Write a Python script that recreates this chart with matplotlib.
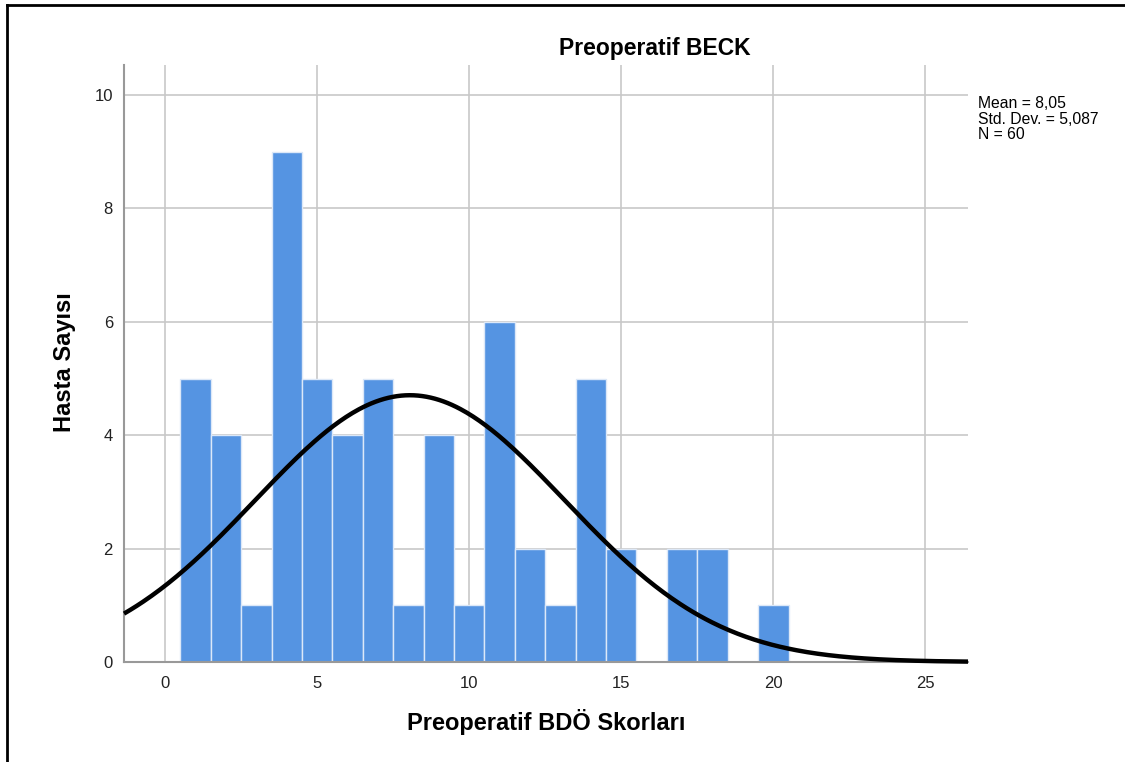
import matplotlib.pyplot as plt
import numpy as np

plt.rcParams['font.family'] = ['Liberation Sans', 'DejaVu Sans']

# Histogram bins (score value) and patient counts
scores = [1, 2, 3, 4, 5, 6, 7, 8, 9, 10, 11, 12, 13, 14, 15, 16, 17, 18, 19, 20]
counts = [5, 4, 1, 9, 5, 4, 5, 1, 4, 1, 6, 2, 1, 5, 2, 0, 2, 2, 0, 1]

mean = 8.05
std_dev = 5.087
n = 60

fig = plt.figure(figsize=(11.25, 7.62), dpi=100)
ax = fig.add_axes([124 / 1125, 1 - 662 / 762, (968 - 124) / 1125, (662 - 65) / 762])

ax.set_xlim(-1.35, 26.4)
ax.set_ylim(0, 10.53)

# grid behind bars
ax.set_axisbelow(True)
ax.grid(True, color='#c8c8c8', linewidth=1.2)

ax.bar(scores, counts, width=1.0, color='#5594e2', edgecolor='#dce8f8', linewidth=1.0, zorder=2)

# fitted normal curve scaled to counts (bin width 1)
xs = np.linspace(-1.35, 26.4, 400)
ys = n * 1.0 / (std_dev * np.sqrt(2 * np.pi)) * np.exp(-0.5 * ((xs - mean) / std_dev) ** 2)
ax.plot(xs, ys, color='black', linewidth=3.2, zorder=3, clip_on=False, solid_capstyle='butt')

ax.set_xticks([0, 5, 10, 15, 20, 25])
ax.set_yticks([0, 2, 4, 6, 8, 10])
ax.tick_params(length=0, labelsize=12, colors='#222222')
ax.tick_params(axis='x', pad=10)
ax.tick_params(axis='y', pad=8)

for side in ['top', 'right']:
    ax.spines[side].set_visible(False)
for side in ['left', 'bottom']:
    ax.spines[side].set_color('#999999')
    ax.spines[side].set_linewidth(1.5)

fig.text(655 / 1125, 1 - 48 / 762, 'Preoperatif BECK', ha='center', va='center',
         fontsize=16.5, fontweight='bold')
fig.text(546 / 1125, 1 - 722 / 762, 'Preoperatif BDÖ Skorları', ha='center', va='center',
         fontsize=17, fontweight='bold')
fig.text(65 / 1125, 1 - 362 / 762, 'Hasta Sayısı', ha='center', va='center',
         fontsize=17, fontweight='bold', rotation=90)

stats = 'Mean = 8,05\nStd. Dev. = 5,087\nN = 60'
fig.text(978 / 1125, 1 - 96 / 762, stats, ha='left', va='top', fontsize=11.3,
         linespacing=1.05)

# outer frame on left and top
fig.add_artist(plt.Line2D([7 / 1125, 7 / 1125], [0, 1 - 5 / 762], transform=fig.transFigure,
                          color='black', linewidth=2))
fig.add_artist(plt.Line2D([7 / 1125, 1], [1 - 5 / 762, 1 - 5 / 762], transform=fig.transFigure,
                          color='black', linewidth=2))

fig.savefig('out.png', dpi=100)
